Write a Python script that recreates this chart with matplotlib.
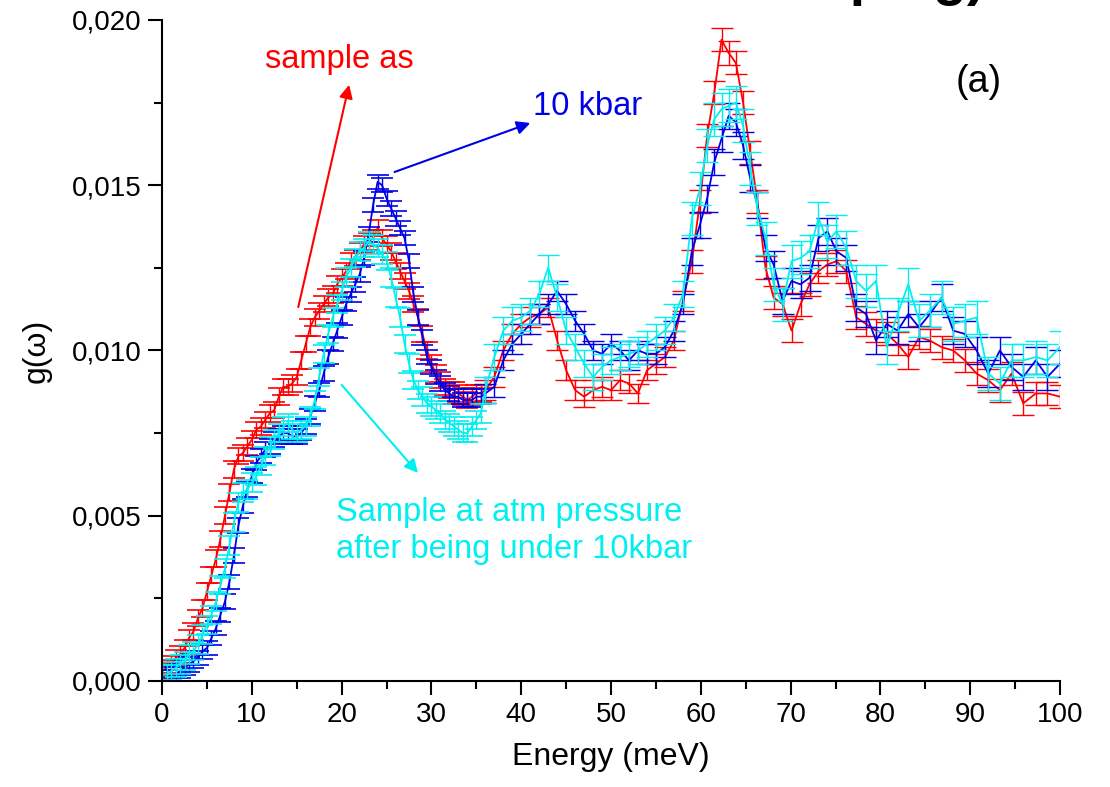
import numpy as np
import matplotlib
matplotlib.use('Agg')
import matplotlib.pyplot as plt
from matplotlib.ticker import MultipleLocator, FuncFormatter

plt.rcParams['font.family'] = ['Liberation Sans', 'DejaVu Sans']
plt.rcParams['font.size'] = 20

# ------------------------------------------------
# Energy grid (meV): dense low-energy part, then coarser
# ------------------------------------------------
E_low = np.arange(0.0, 36.0, 0.5)
E_mid = np.arange(36.0, 59.0, 1.0)
E_high = [59.0, 59.9, 60.7, 61.5, 62.3, 63.1, 63.9, 64.7, 65.5, 66.3, 67.2, 68.1, 69.1,
          70.1, 71.1, 72.1, 73.1, 74.1, 75.1, 76.2, 77.3, 78.4, 79.5, 80.7, 81.9, 83.1,
          84.3, 85.5, 86.8, 88.1, 89.4, 90.7, 92.0, 93.3, 94.6, 95.9, 97.3, 98.6, 100.0]

# g(w), sample as prepared (red)
red_low = [0.0003, 0.0004, 0.0005, 0.0007, 0.0008, 0.0010, 0.0013, 0.0015, 0.0019, 0.0022,
           0.0027, 0.0032, 0.0037, 0.0043, 0.0050, 0.0057, 0.0064, 0.0068, 0.0069, 0.0071,
           0.0073, 0.0076, 0.0077, 0.0079, 0.0081, 0.0082, 0.0086, 0.0089, 0.0089, 0.0090,
           0.0092, 0.0097, 0.0102, 0.0107, 0.0110, 0.0112, 0.0114, 0.0116, 0.0117, 0.0120,
           0.0122, 0.0124, 0.0127, 0.0128, 0.0130, 0.0132, 0.0133, 0.0134, 0.0137, 0.0134,
           0.0132, 0.0130, 0.0127, 0.0124, 0.0121, 0.0118, 0.0114, 0.0110, 0.0105, 0.0100,
           0.0096, 0.0093, 0.0091, 0.0089, 0.0088, 0.0088, 0.0087, 0.0086, 0.0085, 0.0086,
           0.0087, 0.0087]
red_mid = [0.0088, 0.0092, 0.0100, 0.0105, 0.0108, 0.0110, 0.0111, 0.0113, 0.0103, 0.0094,
           0.0088, 0.0086, 0.0088, 0.0089, 0.0088, 0.0091, 0.0090, 0.0087, 0.0094, 0.0096,
           0.0098, 0.0103, 0.0115]
red_high = [0.0127, 0.0145, 0.0165, 0.0178, 0.0194, 0.0190, 0.0187, 0.0175, 0.0160, 0.0145,
            0.0125, 0.0116, 0.0114, 0.0106, 0.0114, 0.0120, 0.0124, 0.0126, 0.0127, 0.0124,
            0.0110, 0.0108, 0.0106, 0.0105, 0.0102, 0.0098, 0.0104, 0.0103, 0.0101, 0.0100,
            0.0097, 0.0093, 0.0091, 0.0088, 0.0093, 0.0084, 0.0087, 0.0087, 0.0086]

# g(w), under 10 kbar (blue)
blue_low = [0.0001, 0.0001, 0.0002, 0.0002, 0.0003, 0.0004, 0.0005, 0.0006, 0.0007, 0.0009,
            0.0010, 0.0013, 0.0016, 0.0020, 0.0024, 0.0030, 0.0038, 0.0047, 0.0053, 0.0058,
            0.0062, 0.0066, 0.0068, 0.0070, 0.0071, 0.0073, 0.0074, 0.0075, 0.0075, 0.0074,
            0.0074, 0.0075, 0.0077, 0.0080, 0.0084, 0.0088, 0.0093, 0.0098, 0.0102, 0.0106,
            0.0110, 0.0114, 0.0117, 0.0120, 0.0123, 0.0128, 0.0135, 0.0144, 0.0151, 0.0150,
            0.0146, 0.0143, 0.0140, 0.0137, 0.0134, 0.0127, 0.0117, 0.0110, 0.0104, 0.0098,
            0.0095, 0.0092, 0.0090, 0.0088, 0.0087, 0.0086, 0.0086, 0.0085, 0.0085, 0.0085,
            0.0086, 0.0086]
blue_mid = [0.0087, 0.0089, 0.0097, 0.0102, 0.0105, 0.0108, 0.0111, 0.0114, 0.0118, 0.0114,
            0.0109, 0.0105, 0.0100, 0.0099, 0.0102, 0.0100, 0.0097, 0.0100, 0.0099, 0.0099,
            0.0101, 0.0106, 0.0114]
blue_high = [0.0130, 0.0138, 0.0146, 0.0157, 0.0164, 0.0171, 0.0169, 0.0162, 0.0152, 0.0144,
             0.0131, 0.0126, 0.0115, 0.0121, 0.0120, 0.0122, 0.0134, 0.0136, 0.0130, 0.0128,
             0.0113, 0.0111, 0.0103, 0.0108, 0.0106, 0.0111, 0.0107, 0.0111, 0.0116, 0.0106,
             0.0105, 0.0100, 0.0093, 0.0100, 0.0095, 0.0092, 0.0097, 0.0092, 0.0096]

# g(w), back at atm pressure after 10 kbar (cyan)
cyan_low = [0.0002, 0.0002, 0.0003, 0.0004, 0.0005, 0.0006, 0.0008, 0.0009, 0.0011, 0.0014,
            0.0017, 0.0020, 0.0024, 0.0029, 0.0034, 0.0041, 0.0048, 0.0054, 0.0057, 0.0058,
            0.0060, 0.0062, 0.0065, 0.0068, 0.0071, 0.0073, 0.0075, 0.0077, 0.0078, 0.0076,
            0.0075, 0.0076, 0.0077, 0.0080, 0.0085, 0.0092, 0.0099, 0.0105, 0.0110, 0.0114,
            0.0118, 0.0122, 0.0125, 0.0128, 0.0130, 0.0131, 0.0133, 0.0132, 0.0131, 0.0129,
            0.0127, 0.0122, 0.0116, 0.0110, 0.0102, 0.0096, 0.0091, 0.0088, 0.0086, 0.0084,
            0.0083, 0.0082, 0.0081, 0.0079, 0.0078, 0.0077, 0.0076, 0.0075, 0.0075, 0.0077,
            0.0079, 0.0081]
cyan_mid = [0.0088, 0.0098, 0.0106, 0.0109, 0.0110, 0.0112, 0.0117, 0.0125, 0.0116, 0.0106,
            0.0101, 0.0096, 0.0092, 0.0095, 0.0097, 0.0098, 0.0099, 0.0100, 0.0102, 0.0104,
            0.0106, 0.0110, 0.0117]
cyan_high = [0.0140, 0.0149, 0.0162, 0.0170, 0.0173, 0.0174, 0.0175, 0.0168, 0.0155, 0.0143,
             0.0134, 0.0120, 0.0114, 0.0127, 0.0128, 0.0130, 0.0140, 0.0133, 0.0136, 0.0131,
             0.0121, 0.0118, 0.0121, 0.0101, 0.0111, 0.0120, 0.0109, 0.0112, 0.0116, 0.0108,
             0.0109, 0.0110, 0.0093, 0.0090, 0.0097, 0.0097, 0.0098, 0.0097, 0.0101]

# error bar half-widths for low / mid / high energy parts
red_err = [0.00025, 0.00030, 0.00035]
blue_err = [0.00022, 0.00030, 0.00040]
cyan_err = [0.00028, 0.00040, 0.00050]

E = np.concatenate([E_low, E_mid, E_high])
n_low = len(E_low)
n_mid = len(E_mid)
n_high = len(E_high)

series = [
    (red_low + red_mid + red_high, red_err, '#ff0000'),
    (blue_low + blue_mid + blue_high, blue_err, '#0000e6'),
    (cyan_low + cyan_mid + cyan_high, cyan_err, '#00f0f0'),
]

fig = plt.figure(figsize=(11.1, 7.87), dpi=100)
ax = fig.add_axes([0.146, 0.1347, 0.809, 0.840])

for vals, err, col in series:
    vals = np.array(vals)
    yerr = np.concatenate([np.full(n_low, err[0]), np.full(n_mid, err[1]), np.full(n_high, err[2])])
    ax.plot(E, vals, color=col, linewidth=1.3, zorder=2)
    # dense part: many overlapping caps
    ax.errorbar(E[:n_low], vals[:n_low], yerr=yerr[:n_low], fmt='none', ecolor=col,
                elinewidth=1.0, capsize=8, capthick=1.2, zorder=2)
    # coarse part
    ax.errorbar(E[n_low:], vals[n_low:], yerr=yerr[n_low:], fmt='none', ecolor=col,
                elinewidth=1.0, capsize=8, capthick=1.0, zorder=2)

ax.set_xlim(0, 100)
ax.set_ylim(0, 0.020)
ax.xaxis.set_major_locator(MultipleLocator(10))
ax.xaxis.set_minor_locator(MultipleLocator(5))
ax.yaxis.set_major_locator(MultipleLocator(0.005))
ax.yaxis.set_minor_locator(MultipleLocator(0.0025))
ax.yaxis.set_major_formatter(FuncFormatter(lambda v, p: ('%.3f' % v).replace('.', ',')))

for s in ['top', 'right']:
    ax.spines[s].set_visible(False)
for s in ['left', 'bottom']:
    ax.spines[s].set_linewidth(1.5)
ax.tick_params(which='major', direction='out', length=10, width=1.5, labelsize=20, pad=5)
ax.tick_params(which='minor', direction='out', length=6, width=1.5)

ax.set_xlabel('Energy (meV)', fontsize=23, labelpad=10)
ax.set_ylabel('g(\u03c9)', fontsize=23, labelpad=14)

# annotations
ax.annotate('', xy=(20.9, 0.01812), xytext=(15.1, 0.01123),
            arrowprops=dict(arrowstyle='-|>', color='#ff0000', lw=1.5, mutation_scale=20))
ax.text(11.5, 0.01879, 'sample as', color='#ff0000', fontsize=23.5, va='center', ha='left')

ax.annotate('', xy=(41.3, 0.01691), xytext=(25.6, 0.01537),
            arrowprops=dict(arrowstyle='-|>', color='#0000e6', lw=1.5, mutation_scale=20))
ax.text(41.3, 0.01737, '10 kbar', color='#0000e6', fontsize=23.5, va='center', ha='left')

ax.annotate('', xy=(28.7, 0.00623), xytext=(19.8, 0.00902),
            arrowprops=dict(arrowstyle='-|>', color='#00f0f0', lw=1.5, mutation_scale=20))
ax.text(19.4, 0.00454, 'Sample at atm pressure\nafter being under 10kbar', color='#00f0f0',
        fontsize=23.5, va='center', ha='left', linespacing=1.25)

ax.text(90.9, 0.01812, '(a)', color='black', fontsize=27, va='center', ha='center')

# title cut off at the top of the picture
fig.text(0.888, 1.007, 'doping)', fontsize=40, fontweight='bold', ha='right', va='baseline')

fig.savefig('out.png', dpi=100)
